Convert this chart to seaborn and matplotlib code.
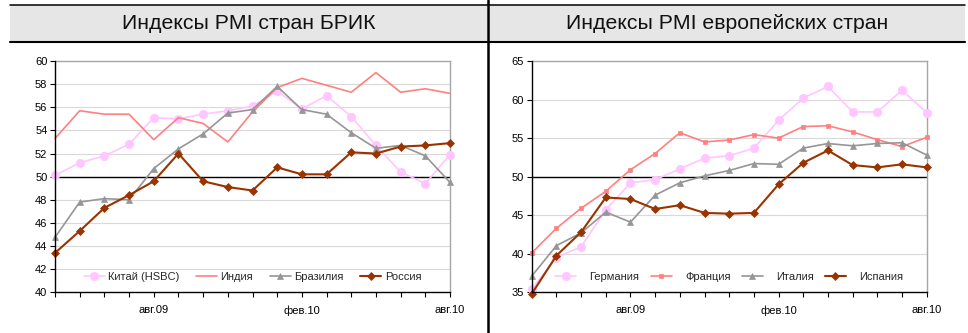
import matplotlib
matplotlib.use("Agg")
import matplotlib.pyplot as plt
from matplotlib.patches import Rectangle
from matplotlib.lines import Line2D
import seaborn as sns
import numpy as np

sns.set_style("white")
plt.rcParams['font.family'] = ['Liberation Sans', 'DejaVu Sans']

# ---------------- data ----------------
tick_labels = ["", "", "", "", "авг.09", "", "", "", "", "", "фев.10",
               "", "", "", "", "", "авг.10"]

bric_title = "Индексы PMI стран БРИК"
china = [50.1, 51.2, 51.8, 52.8, 55.1, 55.0, 55.4, 55.7, 56.1, 57.4, 55.85,
         57.0, 55.2, 52.7, 50.4, 49.4, 51.9]
india = [53.3, 55.7, 55.4, 55.4, 53.2, 55.1, 54.6, 53.0, 55.6, 57.7, 58.5,
         57.9, 57.3, 59.0, 57.3, 57.6, 57.2]
brazil = [44.75, 47.8, 48.1, 48.0, 50.7, 52.4, 53.7, 55.5, 55.8, 57.8, 55.8,
          55.4, 53.8, 52.45, 52.7, 51.8, 49.5]
russia = [43.4, 45.3, 47.3, 48.4, 49.6, 52.0, 49.6, 49.1, 48.8, 50.8, 50.2,
          50.2, 52.1, 52.0, 52.6, 52.7, 52.9]

eu_title = "Индексы PMI европейских стран"
germany = [35.4, 39.5, 40.9, 45.7, 49.2, 49.6, 51.0, 52.4, 52.7, 53.7, 57.3,
           60.2, 61.7, 58.4, 58.4, 61.2, 58.3]
france = [40.1, 43.3, 45.9, 48.1, 50.9, 53.0, 55.7, 54.5, 54.75, 55.45, 55.0,
          56.5, 56.6, 55.8, 54.8, 53.9, 55.1]
italy = [37.1, 41.05, 42.7, 45.4, 44.1, 47.6, 49.2, 50.1, 50.8, 51.7, 51.6,
         53.7, 54.3, 54.0, 54.3, 54.4, 52.8]
spain = [34.8, 39.75, 42.8, 47.3, 47.1, 45.8, 46.3, 45.3, 45.2, 45.3, 49.0,
         51.8, 53.4, 51.5, 51.2, 51.6, 51.2]

PINK = "#FFC6FF"
SALMON = "#FF8080"
GRAY = "#969696"
BROWN = "#993300"

W, H = 968, 333
fig = plt.figure(figsize=(W / 100, H / 100), dpi=100)

def fx(px):
    return px / W

def fy(py):
    return 1 - py / H

# title bars
for x0, x1, title in [(10, 487, bric_title), (489, 965, eu_title)]:
    fig.add_artist(Rectangle((fx(x0), fy(42)), fx(x1) - fx(x0), fy(5) - fy(42),
                             transform=fig.transFigure, facecolor="#E6E6E6",
                             edgecolor="none", zorder=0))
    fig.text((fx(x0) + fx(x1)) / 2, (fy(5) + fy(42)) / 2, title,
             ha="center", va="center", fontsize=15.3, color="#111111")
fig.add_artist(Line2D([fx(10), fx(965)], [fy(5), fy(5)], color="black", lw=1.1,
                      transform=fig.transFigure))
fig.add_artist(Line2D([fx(10), fx(965)], [fy(42), fy(42)], color="black", lw=1.5,
                      transform=fig.transFigure))
fig.add_artist(Line2D([fx(488), fx(488)], [0, 1], color="black", lw=1.8,
                      transform=fig.transFigure))

ax_top, ax_bot = 61, 292.3
axL = fig.add_axes([fx(55), fy(ax_bot), fx(450) - fx(55), fy(ax_top) - fy(ax_bot)])
axR = fig.add_axes([fx(531.7), fy(ax_bot), fx(926.7) - fx(531.7), fy(ax_top) - fy(ax_bot)])

x = np.arange(len(tick_labels))

def series(ax, vals, label, color, marker, ms, lw, mcolor=None):
    sns.lineplot(x=x, y=vals, ax=ax, color=color, marker=marker, markersize=ms,
                 markeredgecolor=mcolor or color, markerfacecolor=mcolor or color,
                 markeredgewidth=0.5, linewidth=lw, label=label, clip_on=False,
                 zorder=3)

series(axL, china, "Китай (HSBC)", PINK, "o", 6, 1.2)
series(axL, india, "Индия", SALMON, None, 0, 1.2)
series(axL, brazil, "Бразилия", GRAY, "^", 4.5, 1.2)
series(axL, russia, "Россия", BROWN, "D", 3.6, 1.5)

series(axR, germany, "Германия", PINK, "o", 6, 1.2)
series(axR, france, "Франция", SALMON, "s", 3.5, 1.2)
series(axR, italy, "Италия", GRAY, "^", 4.5, 1.2)
series(axR, spain, "Испания", BROWN, "D", 3.6, 1.5)

for ax, ylo, yhi, step, hp, cs, ht in [(axL, 40, 60, 2, 0.3, 1.5, 1.9),
                                       (axR, 35, 65, 5, 1.2, 1.0, 1.9)]:
    ax.set_xlim(0, len(tick_labels) - 1)
    ax.set_ylim(ylo, yhi)
    ax.set_yticks(np.arange(ylo, yhi + 0.1, step))
    ax.set_xticks(x)
    ax.set_xticklabels(tick_labels)
    ax.set_xlabel("")
    ax.set_ylabel("")
    ax.tick_params(axis="both", labelsize=8, colors="black", direction="out",
                   length=3.5, width=0.8, left=True, bottom=True)
    ax.tick_params(axis="x", pad=6)
    ax.tick_params(axis="y", pad=2)
    for yv in np.arange(ylo + step, yhi, step):
        if yv != 50:
            ax.axhline(yv, color="#D9D9D9", lw=0.8, zorder=1)
    ax.axhline(50, color="black", lw=1.0, zorder=2)
    for s in ["left", "bottom"]:
        ax.spines[s].set_color("black")
        ax.spines[s].set_linewidth(1.0)
    for s in ["top", "right"]:
        ax.spines[s].set_color("#A6A6A6")
        ax.spines[s].set_linewidth(1.0)
    ax.spines["left"].set_zorder(5)
    ax.spines["bottom"].set_zorder(5)
    ax.legend(loc="center", bbox_to_anchor=(0.5, 0.066), ncol=4, frameon=False,
              fontsize=8, handlelength=ht, handletextpad=hp, columnspacing=cs,
              borderaxespad=0, borderpad=0)

fig.savefig("out.png", dpi=100, facecolor="white")
